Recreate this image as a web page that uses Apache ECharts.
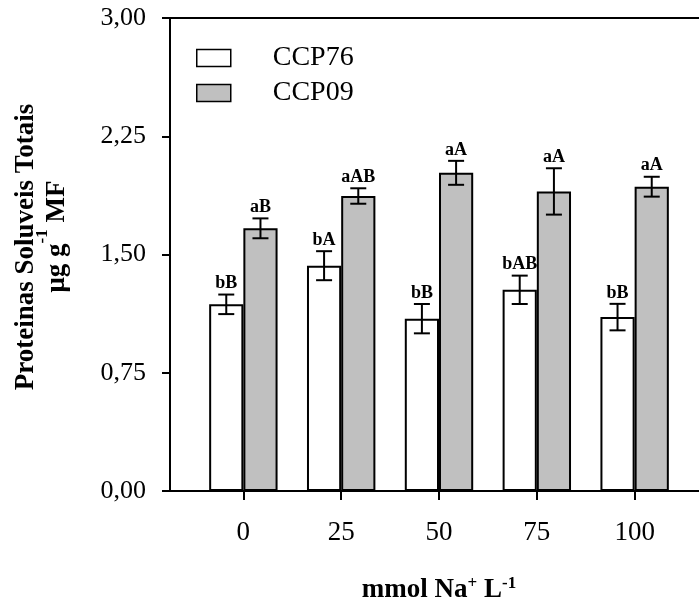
<!DOCTYPE html>
<html>
<head>
<meta charset="utf-8">
<script src="https://cdn.jsdelivr.net/npm/echarts@6/dist/echarts.min.js"></script>
<style>
html,body{margin:0;padding:0;background:#fff;}
#chart{width:699px;height:604px;}
</style>
</head>
<body>
<div id="chart"></div>
<script>
const categories = ['0', '25', '50', '75', '100'];
const ccp76 = [1.184, 1.429, 1.093, 1.276, 1.103];
const ccp76Err = [0.062, 0.092, 0.093, 0.090, 0.084];
const ccp76Labels = ['bB', 'bA', 'bB', 'bAB', 'bB'];
const ccp09 = [1.666, 1.871, 2.018, 1.900, 1.930];
const ccp09Err = [0.063, 0.049, 0.076, 0.147, 0.063];
const ccp09Labels = ['aB', 'aAB', 'aA', 'aA', 'aA'];
const yTicks = [0, 0.75, 1.5, 2.25, 3];

const FONT = 'Liberation Serif';
const BAR_W = 34.2;
const positions = categories.map((c, i) => i);

function barData(vals) { return vals.map((v, i) => [positions[i], v]); }
function errData(vals, errs, labels) { return vals.map((v, i) => [positions[i], v, errs[i], labels[i]]); }

function errRender(offset) {
  return function (params, api) {
    const x = api.value(0), v = api.value(1), e = api.value(2);
    const lab = api.value(3);
    const top = api.coord([x, v + e]);
    const bot = api.coord([x, v - e]);
    const cx = top[0] + offset;
    const half = 8;
    const st = { stroke: '#000', lineWidth: 2 };
    return {
      type: 'group',
      children: [
        { type: 'line', shape: { x1: cx, y1: top[1], x2: cx, y2: bot[1] }, style: st },
        { type: 'line', shape: { x1: cx - half, y1: top[1], x2: cx + half, y2: top[1] }, style: st },
        { type: 'line', shape: { x1: cx - half, y1: bot[1], x2: cx + half, y2: bot[1] }, style: st },
        { type: 'text', style: { text: lab, x: cx, y: top[1] - 2, textAlign: 'center', textVerticalAlign: 'bottom',
            font: 'bold 18px "' + FONT + '"', fill: '#000' } }
      ]
    };
  };
}

const chart = echarts.init(document.getElementById('chart'), null, { renderer: 'canvas' });
chart.setOption({
  animation: false,
  backgroundColor: '#fff',
  textStyle: { fontFamily: FONT, color: '#000' },
  grid: { left: 170, right: -9, top: 18, bottom: 113, show: true, borderColor: '#000', borderWidth: 2,
    backgroundColor: 'transparent', containLabel: false, outerBoundsMode: 'none' },
  legend: {
    orient: 'vertical', left: 196, top: 44, padding: 0,
    itemWidth: 34, itemHeight: 17, itemGap: 7, icon: 'rect',
    itemStyle: { borderColor: '#000', borderWidth: 1.5 },
    textStyle: { fontFamily: FONT, fontSize: 28, lineHeight: 28, color: '#000', padding: [0, 0, 0, 37] },
    data: ['CCP76', 'CCP09']
  },
  xAxis: {
    type: 'value', min: -0.75, max: 4.75,
    splitLine: { show: false },
    axisLine: { show: true, onZero: false, lineStyle: { color: '#000', width: 2 } },
    axisTick: { show: true, customValues: positions, length: 9, inside: false, lineStyle: { color: '#000', width: 2 } },
    axisLabel: { customValues: positions, formatter: v => categories[Math.round(v)], fontFamily: FONT, fontSize: 27, color: '#000', margin: 28 },
    name: '{b|mmol Na}{sup|+}{b| L}{sup|-1}',
    nameLocation: 'middle', nameGap: 84,
    nameTextStyle: {
      rich: {
        b: { fontFamily: FONT, fontSize: 27, fontWeight: 'bold', lineHeight: 30, color: '#000' },
        sup: { fontFamily: FONT, fontSize: 17, fontWeight: 'bold', lineHeight: 17, verticalAlign: 'top', color: '#000' }
      }
    }
  },
  yAxis: {
    type: 'value', min: 0, max: 3, interval: 0.75,
    splitLine: { show: false },
    axisLine: { show: true, onZero: false, lineStyle: { color: '#000', width: 2 } },
    axisTick: { show: true, length: 8, inside: false, lineStyle: { color: '#000', width: 2 } },
    axisLabel: { formatter: v => v.toFixed(2).replace('.', ','), fontFamily: FONT, fontSize: 26, color: '#000', margin: 24 },
    name: '{l1|Proteinas Soluveis Totais}\n{l2a|μg g}{sup|-1}{l2| MF}',
    nameLocation: 'middle', nameGap: 90,
    nameTextStyle: {
      rich: {
        l1: { fontFamily: FONT, fontSize: 27, fontWeight: 'bold', lineHeight: 16, color: '#000', padding: [0, 0, 0, 15] },
        l2a: { fontFamily: FONT, fontSize: 27, fontWeight: 'bold', lineHeight: 46, color: '#000', padding: [0, 0, 0, 36] },
        l2: { fontFamily: FONT, fontSize: 27, fontWeight: 'bold', lineHeight: 46, color: '#000' },
        sup: { fontFamily: FONT, fontSize: 17, fontWeight: 'bold', lineHeight: 16, verticalAlign: 'top', color: '#000' }
      }
    }
  },
  series: [
    { name: 'CCP76', type: 'bar', data: barData(ccp76), barWidth: BAR_W, barGap: '0%',
      itemStyle: { color: '#ffffff', borderColor: '#000', borderWidth: 2 } },
    { name: 'CCP09', type: 'bar', data: barData(ccp09), barWidth: BAR_W, barGap: '0%',
      itemStyle: { color: '#c0c0c0', borderColor: '#000', borderWidth: 2 } },
    { type: 'custom', data: errData(ccp76, ccp76Err, ccp76Labels), renderItem: errRender(-BAR_W / 2), z: 5,
      encode: { x: 0, y: 1 } },
    { type: 'custom', data: errData(ccp09, ccp09Err, ccp09Labels), renderItem: errRender(BAR_W / 2), z: 5,
      encode: { x: 0, y: 1 } }
  ]
});
</script>
</body>
</html>
